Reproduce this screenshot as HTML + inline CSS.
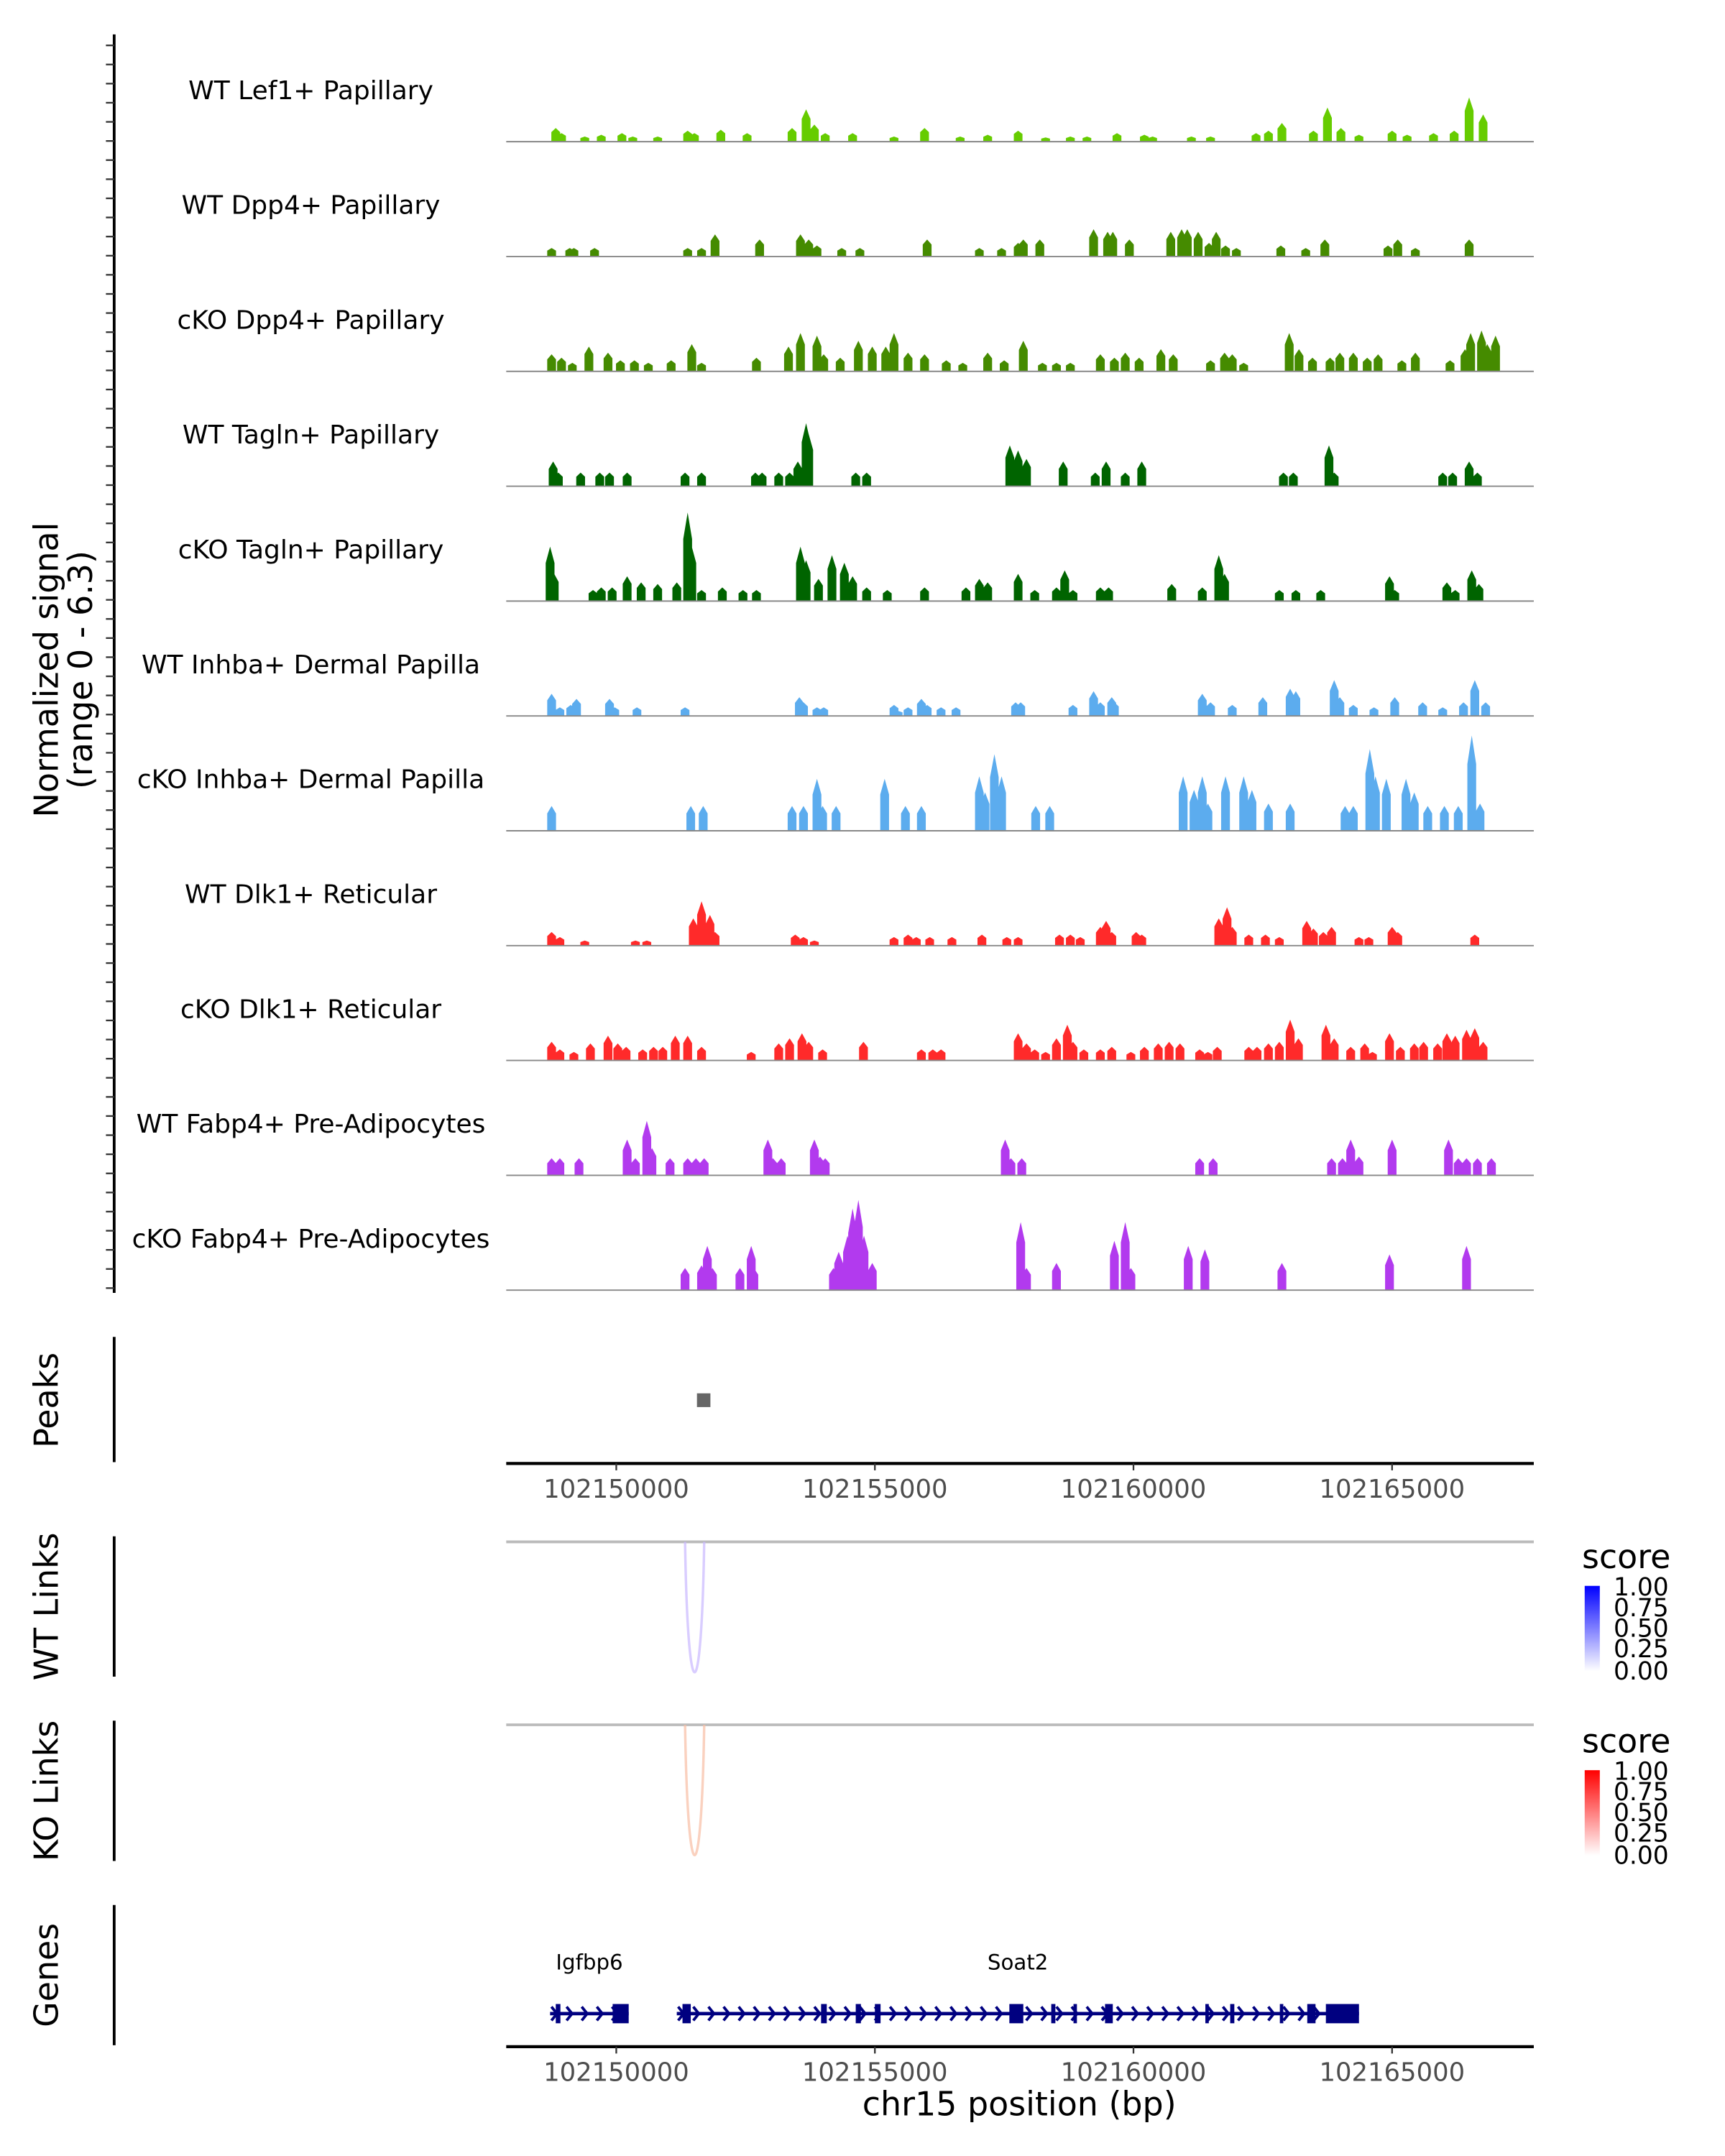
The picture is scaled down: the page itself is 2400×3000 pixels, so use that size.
<!DOCTYPE html>
<html><head><meta charset="utf-8">
<style>
html,body{margin:0;padding:0;background:#fff;}
svg{display:block;font-family:"DejaVu Sans","Liberation Sans",sans-serif;}
</style></head>
<body>
<svg id="chart" xmlns="http://www.w3.org/2000/svg" width="2400" height="3000" viewBox="0 0 1254 1567.5">
<defs>
<linearGradient id="gBlue" x1="0" y1="1" x2="0" y2="0"><stop offset="0" stop-color="#ffffff"/><stop offset="1" stop-color="#0000ff"/></linearGradient>
<linearGradient id="gRed" x1="0" y1="1" x2="0" y2="0"><stop offset="0" stop-color="#ffffff"/><stop offset="1" stop-color="#ff0000"/></linearGradient>
</defs>
<text transform="translate(42,487) rotate(-90)" text-anchor="middle" font-size="24">Normalized signal</text>
<text transform="translate(67,487) rotate(-90)" text-anchor="middle" font-size="24">(range 0 - 6.3)</text>
<g id="tracks"></g>
<line x1="83" y1="25" x2="83" y2="940" stroke="#000" stroke-width="2"/>
<g id="yticks"></g>

<text transform="translate(42,1018) rotate(-90)" text-anchor="middle" font-size="24">Peaks</text>
<line x1="83" y1="972" x2="83" y2="1063" stroke="#000" stroke-width="2"/>
<g id="peaks"></g>
<g id="xaxis1"></g>

<text transform="translate(42,1168) rotate(-90)" text-anchor="middle" font-size="24">WT Links</text>
<line x1="83" y1="1117" x2="83" y2="1219" stroke="#000" stroke-width="2"/>
<text transform="translate(42,1302) rotate(-90)" text-anchor="middle" font-size="24">KO Links</text>
<line x1="83" y1="1251" x2="83" y2="1353" stroke="#000" stroke-width="2"/>
<g id="links"></g>

<g>
<text x="1150" y="1140" font-size="24">score</text>
<rect x="1152" y="1153" width="11" height="62" fill="url(#gBlue)"/>
<g font-size="18"><text x="1173" y="1160">1.00</text><text x="1173" y="1175">0.75</text><text x="1173" y="1190">0.50</text><text x="1173" y="1205">0.25</text><text x="1173" y="1221">0.00</text></g>
</g>
<g>
<text x="1150" y="1274" font-size="24">score</text>
<rect x="1152" y="1287" width="11" height="62" fill="url(#gRed)"/>
<g font-size="18"><text x="1173" y="1294">1.00</text><text x="1173" y="1309">0.75</text><text x="1173" y="1324">0.50</text><text x="1173" y="1339">0.25</text><text x="1173" y="1355">0.00</text></g>
</g>

<text transform="translate(42,1436) rotate(-90)" text-anchor="middle" font-size="24">Genes</text>
<line x1="83" y1="1385" x2="83" y2="1487" stroke="#000" stroke-width="2"/>
<g id="genes"></g>
<g id="xaxis2"></g>
<text x="741" y="1538" text-anchor="middle" font-size="24">chr15 position (bp)</text>
</svg>
<script>
// ---- data (positions in kb offset from 102000000; heights in normalized signal) ----
const trackNames = ["WT Lef1+ Papillary","WT Dpp4+ Papillary","cKO Dpp4+ Papillary","WT Tagln+ Papillary","cKO Tagln+ Papillary","WT Inhba+ Dermal Papilla","cKO Inhba+ Dermal Papilla","WT Dlk1+ Reticular","cKO Dlk1+ Reticular","WT Fabp4+ Pre-Adipocytes","cKO Fabp4+ Pre-Adipocytes"];
const trackColors = ["#66CC00","#458B00","#458B00","#006400","#006400","#5CACEE","#5CACEE","#FF2A2A","#FF2A2A","#B23AEE","#B23AEE"];
const lef1Pos = [148.83,148.94,149.39,149.71,150.11,150.32,150.8,151.38,151.51,152.02,152.53,153.4,153.67,153.83,154.04,154.57,155.37,155.96,156.65,157.18,157.77,158.3,158.78,159.1,159.68,160.21,160.37,161.12,161.49,162.37,162.61,162.87,163.48,163.75,164.01,164.36,165.0,165.29,165.8,166.2,166.49,166.76];
const lef1Val = [0.8,0.5,0.3,0.4,0.5,0.3,0.3,0.65,0.5,0.7,0.5,0.8,1.9,1.0,0.5,0.5,0.3,0.8,0.3,0.4,0.65,0.25,0.3,0.3,0.5,0.4,0.3,0.3,0.3,0.5,0.65,1.1,0.65,2.0,0.8,0.4,0.65,0.4,0.5,0.65,2.6,1.6];
const dpp4WtPos = [148.75,149.1,149.18,149.58,151.38,151.65,151.91,152.77,153.56,153.72,153.88,154.36,154.71,156.01,157.02,157.45,157.77,157.87,158.19,159.23,159.5,159.6,159.92,160.72,160.93,161.04,161.25,161.46,161.6,161.78,161.99,162.85,163.33,163.7,164.92,165.11,165.45,166.49];
const dpp4WtVal = [0.5,0.5,0.5,0.5,0.5,0.5,1.3,1.0,1.3,1.0,0.65,0.5,0.5,1.0,0.5,0.5,0.8,1.0,1.0,1.6,1.45,1.45,1.0,1.45,1.6,1.6,1.45,0.8,1.45,0.65,0.5,0.65,0.5,1.0,0.65,1.0,0.5,1.0];
const dpp4KoPos = [148.75,148.94,149.15,149.47,149.84,150.08,150.35,150.62,151.06,151.46,151.65,152.71,153.33,153.56,153.88,154.01,154.33,154.68,154.95,155.21,155.37,155.64,155.96,156.38,156.7,157.18,157.5,157.87,158.24,158.51,158.78,159.36,159.63,159.84,160.11,160.53,160.77,161.49,161.76,161.91,162.13,163.01,163.2,163.46,163.8,163.99,164.25,164.52,164.73,165.19,165.45,166.12,166.41,166.52,166.73,166.84,167.0];
const dpp4KoVal = [1.0,0.8,0.5,1.45,1.1,0.65,0.65,0.5,0.65,1.6,0.5,0.8,1.45,2.25,2.1,1.0,0.8,1.8,1.45,1.45,2.25,1.1,1.0,0.65,0.5,1.1,0.65,1.8,0.5,0.5,0.5,1.0,0.8,1.1,0.8,1.3,1.0,0.65,1.1,1.0,0.5,2.25,1.3,0.8,0.8,1.1,1.1,0.8,1.0,0.65,1.1,0.65,1.3,2.25,2.4,1.6,2.1];
const taglnWtPos = [148.78,148.88,149.31,149.68,149.87,150.21,151.33,151.65,152.69,152.82,153.14,153.35,153.51,153.67,153.72,154.63,154.84,157.61,157.77,157.93,158.64,159.26,159.47,159.84,160.16,162.9,163.09,163.78,163.88,165.98,166.17,166.49,166.65];
const taglnWtVal = [1.45,0.8,0.8,0.8,0.8,0.8,0.8,0.8,0.8,0.8,0.8,0.8,1.45,3.7,3.05,0.8,0.8,2.4,2.1,1.6,1.45,0.8,1.45,0.8,1.45,0.8,0.8,2.4,0.8,0.8,0.8,1.45,0.8];
const taglnKoPos = [148.72,148.8,149.55,149.71,149.92,150.21,150.48,150.8,151.17,151.38,151.46,151.65,152.05,152.45,152.71,153.56,153.67,153.91,154.17,154.41,154.57,154.84,155.24,155.96,156.76,157.02,157.18,157.77,158.09,158.51,158.67,158.83,159.36,159.52,160.74,161.33,161.65,161.76,162.82,163.14,163.62,164.95,165.05,166.06,166.22,166.54,166.68];
const taglnKoVal = [3.2,1.6,0.65,0.8,0.8,1.45,1.1,1.0,1.1,5.2,3.2,0.65,0.8,0.65,0.65,3.2,2.4,1.3,2.7,2.25,1.45,0.8,0.65,0.8,0.8,1.3,1.1,1.6,0.65,0.8,1.8,0.65,0.8,0.8,1.0,0.8,2.7,1.6,0.65,0.65,0.65,1.45,0.65,1.1,0.65,1.8,1.0];
const inhbaWtPos = [148.75,148.91,149.12,149.23,149.87,149.97,150.4,151.33,153.54,153.62,153.88,154.01,155.37,155.45,155.64,155.9,156.01,156.28,156.57,157.72,157.82,158.83,159.23,159.36,159.58,159.63,161.33,161.49,161.91,162.5,163.03,163.14,163.88,163.99,164.25,164.65,165.05,165.59,165.98,166.38,166.6,166.81];
const inhbaWtVal = [1.3,0.5,0.65,1.0,1.0,0.5,0.5,0.5,1.1,0.8,0.5,0.5,0.65,0.3,0.5,1.0,0.65,0.5,0.5,0.8,0.8,0.65,1.45,0.8,1.1,0.8,1.3,0.8,0.65,1.1,1.6,1.45,2.1,1.1,0.65,0.5,1.1,0.8,0.5,0.8,2.1,0.8];
const inhbaKoPos = [148.75,151.44,151.68,153.4,153.62,153.88,153.99,154.25,155.19,155.59,155.9,157.02,157.13,157.31,157.45,158.11,158.38,160.96,161.17,161.33,161.44,161.78,162.13,162.29,162.61,163.03,164.09,164.25,164.57,164.68,164.89,165.27,165.43,165.69,166.01,166.28,166.54,166.7];
const inhbaKoVal = [1.45,1.45,1.45,1.45,1.45,3.05,1.45,1.45,3.05,1.45,1.45,3.2,2.25,4.5,3.2,1.45,1.45,3.2,2.4,3.2,1.6,3.2,3.2,2.4,1.6,1.6,1.45,1.45,4.8,3.2,3.05,3.05,2.25,1.45,1.45,1.45,5.6,1.6];
const dlk1WtPos = [148.75,148.91,149.39,150.37,150.59,151.49,151.65,151.81,151.91,153.46,153.62,153.83,155.37,155.64,155.8,156.06,156.49,157.07,157.55,157.77,158.57,158.78,158.97,159.36,159.47,159.58,160.05,160.16,161.65,161.81,161.91,162.23,162.55,162.82,163.35,163.48,163.67,163.83,164.36,164.55,165.0,165.11,166.6];
const dlk1WtVal = [0.8,0.5,0.3,0.3,0.3,1.6,2.6,1.8,0.8,0.65,0.5,0.3,0.5,0.65,0.5,0.5,0.5,0.65,0.5,0.5,0.65,0.65,0.5,1.1,1.45,0.8,0.8,0.65,1.6,2.25,1.1,0.65,0.65,0.5,1.45,1.0,0.8,1.1,0.5,0.5,1.1,0.8,0.65];
const dlk1KoPos = [148.75,148.91,149.18,149.5,149.84,150.03,150.19,150.51,150.72,150.9,151.14,151.38,151.65,152.61,153.14,153.35,153.59,153.72,153.99,154.78,155.9,156.12,156.28,157.77,157.93,158.09,158.3,158.51,158.72,158.83,159.04,159.36,159.58,159.95,160.21,160.48,160.69,160.9,161.28,161.44,161.62,162.23,162.39,162.61,162.82,163.03,163.19,163.72,163.88,164.2,164.47,164.62,164.95,165.16,165.43,165.61,165.88,166.06,166.22,166.44,166.6,166.76];
const dlk1KoVal = [1.1,0.65,0.5,1.0,1.45,1.0,0.8,0.65,0.8,0.8,1.45,1.45,0.8,0.5,1.0,1.3,1.6,1.1,0.65,1.1,0.65,0.65,0.65,1.6,1.0,0.65,0.5,1.3,2.1,1.1,0.65,0.65,0.8,0.5,0.8,1.0,1.1,1.0,0.65,0.5,0.8,0.8,0.8,1.0,1.1,2.4,1.3,2.1,1.3,0.8,1.0,0.5,1.6,0.8,1.0,1.1,1.0,1.6,1.45,1.8,1.9,1.1];
const fabp4WtPos = [148.75,148.91,149.28,150.21,150.37,150.59,150.69,151.04,151.38,151.54,151.7,152.93,153.03,153.19,153.83,153.94,154.04,157.52,157.63,157.84,161.28,161.54,163.83,164.04,164.2,164.36,165.0,166.09,166.28,166.44,166.65,166.92];
const fabp4WtVal = [1.0,1.0,1.0,2.1,1.0,3.2,1.6,1.0,1.0,1.0,1.0,2.1,1.0,1.0,2.1,1.1,1.0,2.1,1.0,1.0,1.0,1.0,1.0,1.0,2.1,1.1,2.1,2.1,1.0,1.0,1.0,1.0];
const fabp4KoPos = [151.33,151.65,151.76,151.86,152.39,152.61,152.66,154.2,154.3,154.47,154.57,154.68,154.79,154.95,157.82,157.93,158.51,159.63,159.84,159.95,161.06,161.38,162.87,164.95,166.44];
const fabp4KoVal = [1.3,1.45,2.6,1.3,1.3,2.6,1.3,1.3,2.25,3.2,4.8,5.3,3.2,1.6,4.0,1.3,1.6,2.9,4.0,1.3,2.6,2.4,1.6,2.1,2.6];
const trackPos = [lef1Pos,dpp4WtPos,dpp4KoPos,taglnWtPos,taglnKoPos,inhbaWtPos,inhbaKoPos,dlk1WtPos,dlk1KoPos,fabp4WtPos,fabp4KoPos];
const trackVal = [lef1Val,dpp4WtVal,dpp4KoVal,taglnWtVal,taglnKoVal,inhbaWtVal,inhbaKoVal,dlk1WtVal,dlk1KoVal,fabp4WtVal,fabp4KoVal];
const peakStarts = [151.56];
const peakEnds = [151.82];
const wtLinkStart = [151.33];
const wtLinkEnd = [151.7];
const wtLinkScore = [0.2];
const koLinkStart = [151.33];
const koLinkEnd = [151.7];
const koLinkScore = [0.2];
const geneNames = ["Igfbp6","Soat2"];
const geneStart = [148.72,151.17];
const geneEnd = [150.24,164.36];
const exonStarts = [[148.83,149.93],[151.28,153.96,154.63,155.0,157.6,158.41,158.84,159.45,161.39,161.87,162.83,163.36,163.72]];
const exonEnds = [[148.92,150.24],[151.44,154.07,154.73,155.11,157.87,158.49,158.9,159.6,161.45,161.95,162.89,163.52,164.36]];
const xTicks = [150,155,160,165];
const xTickLabels = ["102150000","102155000","102160000","102165000"];

// ---- scales ----
const X0 = 368, X1 = 1115, KB0 = 147.872, KB1 = 167.74;
const xs = kb => X0 + (kb - KB0) / (KB1 - KB0) * (X1 - X0);
const YMAX = 6.3, TRACK_H = 78;
const ys = (v, base) => base - v / YMAX * TRACK_H;
const NS = "http://www.w3.org/2000/svg";
function mk(tag, attrs, parent){ const e=document.createElementNS(NS,tag); for(const k in attrs) e.setAttribute(k,attrs[k]); parent.appendChild(e); return e; }

// signal tracks
const tracksG = document.getElementById('tracks');
const PW = 0.17;
trackNames.forEach((name,i)=>{
  const base = 103 + i*83.5;
  const g = mk('g',{},tracksG);
  
  
  const t = mk('text',{x:226,y:base-31,'text-anchor':'middle','font-size':'18.8'},g);
  t.textContent = name;
  
  
  let d='';
  trackPos[i].forEach((p,j)=>{
    const v = trackVal[i][j];
    const xl = xs(p-PW/2), xr = xs(p+PW/2), xm = xs(p);
    const yt = ys(v,base), yh = ys(v*0.7,base);
    d += `M${xl.toFixed(1)},${base}L${xl.toFixed(1)},${yh.toFixed(1)}L${xm.toFixed(1)},${yt.toFixed(1)}L${xr.toFixed(1)},${yh.toFixed(1)}L${xr.toFixed(1)},${base}Z`;
  });
  const path = mk('path',{d:d,fill:trackColors[i]},g);
  
  
  const bl = mk('line',{x1:X0,x2:X1,y1:base,y2:base,stroke:'#888','stroke-width':1},g);
  
  
});
// y minor ticks
const yt = document.getElementById('yticks');
for(let y=33; y<940; y+=13.9){
  const l = mk('line',{x1:77,x2:83,y1:y.toFixed(1),y2:y.toFixed(1),stroke:'#333','stroke-width':1.2},yt);
  
  
}
// peaks
const pg = document.getElementById('peaks');
peakStarts.forEach((s,i)=>{
  const r = mk('rect',{x:xs(s),y:1013,width:xs(peakEnds[i])-xs(s),height:10,fill:'#666'},pg);
  
  
});
// x axes
function xAxis(id,y){
  const g=document.getElementById(id);
  const al = mk('line',{x1:X0,x2:X1,y1:y,y2:y,stroke:'#000','stroke-width':2.2},g);
  
  
  xTicks.forEach((t,i)=>{
    const x=xs(t);
    const tk = mk('line',{x1:x,x2:x,y1:y,y2:y+5,stroke:'#333','stroke-width':1.2},g);
    
    
    const tx = mk('text',{x:x,y:y+25,'text-anchor':'middle','font-size':'18.5',fill:'#4d4d4d'},g);
    tx.textContent = xTickLabels[i];
    
    
  });
}
xAxis('xaxis1',1064);
xAxis('xaxis2',1488);
// links
const lg = document.getElementById('links');
function links(top,starts,ends,scores,col){
  const b = mk('line',{x1:X0,x2:X1,y1:top,y2:top,stroke:'#bbb','stroke-width':2},lg);
  
  
  starts.forEach((s,i)=>{
    const a=xs(s), c=xs(ends[i]), depth=95;
    const p = mk('path',{d:`M${a},${top} C${a+2},${top+depth*1.33} ${c-2},${top+depth*1.33} ${c},${top}`,fill:'none',stroke:col,'stroke-width':1.8,opacity:0.5+scores[i]},lg);
    
    
  });
}
links(1121,wtLinkStart,wtLinkEnd,wtLinkScore,'#c9b8ff');
links(1254,koLinkStart,koLinkEnd,koLinkScore,'#f8bda4');
// genes
const gg = document.getElementById('genes');
const GY = 1464;
geneNames.forEach((n,i)=>{
  const g = mk('g',{},gg);
  
  
  const a=xs(geneStart[i]), b=xs(geneEnd[i]);
  const lab = mk('text',{x:(a+b)/2,y:1432,'text-anchor':'middle','font-size':'15.3'},g);
  lab.textContent=n;
  mk('line',{x1:a,x2:b,y1:GY,y2:GY,stroke:'#000080','stroke-width':2.5},g);
  let d='';
  for(let x=a+4; x<b-4; x+=11){ d+=`M${x-3},${GY-5}L${x+1},${GY}L${x-3},${GY+5}`; }
  mk('path',{d:d,fill:'none',stroke:'#000080','stroke-width':2},g);
  exonStarts[i].forEach((s,j)=>{
    const ex=xs(s), w=Math.max(2.5,xs(exonEnds[i][j])-ex);
    const r = mk('rect',{x:ex,y:GY-7,width:w,height:14,fill:'#000080'},g);
    
    
  });
});
</script>
</body></html>
